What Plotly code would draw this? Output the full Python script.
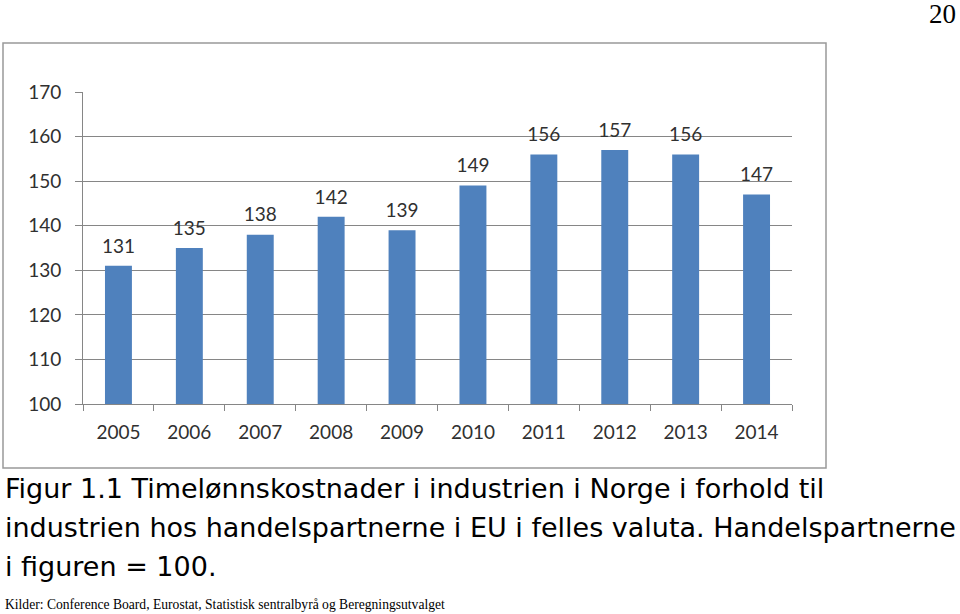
import plotly.graph_objects as go

years = ["2005", "2006", "2007", "2008", "2009", "2010", "2011", "2012", "2013", "2014"]
values = [131, 135, 138, 142, 139, 149, 156, 157, 156, 147]
y_ticks = [100, 110, 120, 130, 140, 150, 160, 170]

caption_lines = [
    "Figur 1.1 Timelønnskostnader i industrien i Norge i forhold til",
    "industrien hos handelspartnerne i EU i felles valuta. Handelspartnerne",
    "i figuren = 100.",
]
source_text = "Kilder: Conference Board, Eurostat, Statistisk sentralbyrå og Beregningsutvalget"
page_number = "20"

W, H = 960, 614
CHART_FONT = "Lato, Open Sans, sans-serif"

def px(x):
    return x / W

def py(y):
    return 1 - y / H

fig = go.Figure()
fig.add_trace(
    go.Bar(
        x=years,
        y=values,
        marker=dict(color="#4F81BD", line=dict(width=0)),
        width=0.38,
        hoverinfo="x+y",
    )
)
# value labels above bars
fig.add_trace(
    go.Scatter(
        x=years,
        y=values,
        mode="markers+text",
        text=[str(v) for v in values],
        textposition="top center",
        marker=dict(size=12, opacity=0),
        textfont=dict(family=CHART_FONT, size=19, color="#303030"),
        cliponaxis=False,
        hoverinfo="skip",
    )
)

fig.update_layout(
    width=W,
    height=H,
    margin=dict(l=0, r=0, t=0, b=0, autoexpand=False),
    paper_bgcolor="white",
    plot_bgcolor="white",
    showlegend=False,
    xaxis=dict(
        type="category",
        categoryorder="array",
        categoryarray=years,
        range=[-0.5, len(years) - 0.5],
        domain=[px(83), px(792)],
        showgrid=False,
        showline=True,
        linecolor="#868686",
        linewidth=1,
        ticks="outside",
        tickson="boundaries",
        ticklen=6,
        tickcolor="#868686",
        ticklabelstandoff=11,
        tickangle=0,
        tickfont=dict(family=CHART_FONT, size=19, color="#303030"),
        anchor="y",
    ),
    yaxis=dict(
        domain=[py(404), py(92)],
        range=[100, 170],
        tickvals=y_ticks,
        showgrid=True,
        gridcolor="#868686",
        gridwidth=1,
        showline=True,
        linecolor="#868686",
        ticks="outside",
        ticklen=7,
        tickcolor="#868686",
        ticklabelstandoff=10,
        tickfont=dict(family=CHART_FONT, size=19, color="#303030"),
        zeroline=False,
    ),
)

# chart image border
fig.add_shape(
    type="rect", xref="paper", yref="paper",
    x0=px(3), x1=px(826), y0=py(468), y1=py(43),
    line=dict(color="#999999", width=1.5), fillcolor="rgba(0,0,0,0)", layer="below",
)

caption_y = [488, 527, 566]
for line, yc in zip(caption_lines, caption_y):
    fig.add_annotation(
        text=line, xref="paper", yref="paper", x=px(3), y=py(yc),
        xanchor="left", yanchor="middle", showarrow=False,
        font=dict(family="DejaVu Sans, sans-serif", size=27, color="black"),
    )

fig.add_annotation(
    text=source_text, xref="paper", yref="paper", x=px(3), y=py(604),
    xanchor="left", yanchor="middle", showarrow=False,
    font=dict(family="Liberation Serif, Times New Roman, serif", size=13.6, color="black"),
)

fig.add_annotation(
    text=page_number, xref="paper", yref="paper", x=px(958), y=py(14),
    xanchor="right", yanchor="middle", showarrow=False,
    font=dict(family="Liberation Serif, Times New Roman, serif", size=27, color="black"),
)

fig.write_html(
    "out.html",
    config={"displayModeBar": False},
    post_script="document.body.style.margin='0';",
)
